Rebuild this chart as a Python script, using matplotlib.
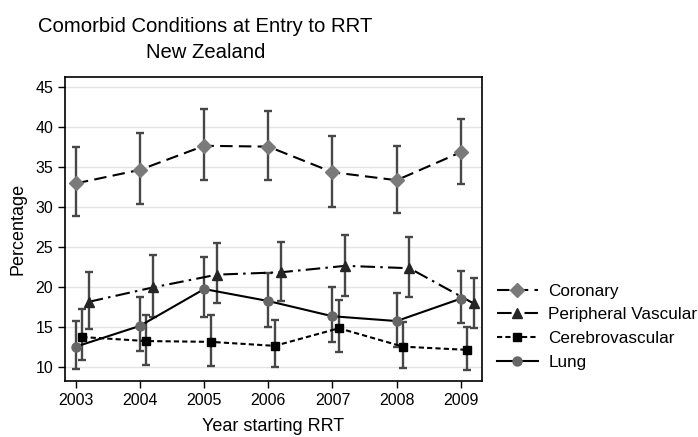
import numpy as np
import matplotlib.pyplot as plt

plt.rcParams['font.family'] = ['Liberation Sans', 'DejaVu Sans']

years = np.array([2003, 2004, 2005, 2006, 2007, 2008, 2009])

# point estimates with lower / upper 95% limits
coronary = [32.9, 34.6, 37.6, 37.5, 34.3, 33.3, 36.8]
coronary_lo = [28.8, 30.3, 33.3, 33.3, 30.0, 29.2, 32.8]
coronary_hi = [37.4, 39.2, 42.2, 41.9, 38.8, 37.6, 40.9]

peripheral = [18.1, 19.9, 21.5, 21.8, 22.6, 22.3, 17.9]
peripheral_lo = [14.7, 16.2, 17.9, 18.2, 18.8, 18.7, 14.8]
peripheral_hi = [21.8, 23.9, 25.4, 25.6, 26.5, 26.2, 21.1]

cerebro = [13.7, 13.2, 13.1, 12.6, 14.8, 12.5, 12.1]
cerebro_lo = [10.8, 10.2, 10.1, 9.9, 11.8, 9.8, 9.6]
cerebro_hi = [17.2, 16.5, 16.4, 15.8, 18.3, 15.6, 14.9]

lung = [12.5, 15.1, 19.7, 18.2, 16.3, 15.7, 18.5]
lung_lo = [9.7, 12.0, 16.2, 14.9, 13.1, 12.4, 15.5]
lung_hi = [15.7, 18.7, 23.7, 21.7, 19.9, 19.2, 22.0]

fig = plt.figure(figsize=(6.98, 4.37), dpi=100)
ax = fig.add_axes([0.0931, 0.128, 0.5974, 0.6958])

ax.yaxis.grid(True, color='#e3e3e3', linewidth=1)
ax.set_axisbelow(True)

ebar = dict(fmt='none', ecolor='#474747', elinewidth=1.7, capsize=2.8, capthick=1.7, zorder=2)

series = [
    ('Coronary', coronary, coronary_lo, coronary_hi, 0.0, 'D', '#7a7a7a', 7.0, (0, (6, 3))),
    ('Peripheral Vascular', peripheral, peripheral_lo, peripheral_hi, 0.2, '^', '#262626', 6.5, (0, (7, 2.5, 1.2, 2.5))),
    ('Cerebrovascular', cerebro, cerebro_lo, cerebro_hi, 0.1, 's', '#000000', 5.5, (0, (2.5, 1.5))),
    ('Lung', lung, lung_lo, lung_hi, 0.0, 'o', '#666666', 6.5, '-'),
]

for name, vals, lo, hi, dx, mk, mc, ms, ls in series:
    vals = np.array(vals)
    x = years + dx
    err = [vals - np.array(lo), np.array(hi) - vals]
    ax.errorbar(x, vals, yerr=err, **ebar)
    ax.plot(x, vals, color='black', linestyle=ls, linewidth=1.5,
            marker=mk, markersize=ms, markerfacecolor=mc, markeredgecolor=mc,
            label=name, zorder=3)

ax.set_xlim(2002.83, 2009.33)
ax.set_ylim(8.2, 46.2)
ax.set_xticks(years)
ax.set_yticks([10, 15, 20, 25, 30, 35, 40, 45])
ax.tick_params(labelsize=11.5, length=5, width=1, direction='out')
for s in ax.spines.values():
    s.set_linewidth(1.2)

ax.set_xlabel('Year starting RRT', fontsize=13, labelpad=7)
ax.set_ylabel('Percentage', fontsize=13, labelpad=6)

fig.text(0.294, 0.96, 'Comorbid Conditions at Entry to RRT\nNew Zealand',
         ha='center', va='top', fontsize=14.6, linespacing=1.45)

ax.legend(loc='center left', bbox_to_anchor=(0.712, 0.252), bbox_transform=fig.transFigure,
          frameon=False, fontsize=12.3, handlelength=2.4, labelspacing=0.52,
          handletextpad=0.6, borderaxespad=0, borderpad=0)

fig.savefig('out.png', dpi=100)
